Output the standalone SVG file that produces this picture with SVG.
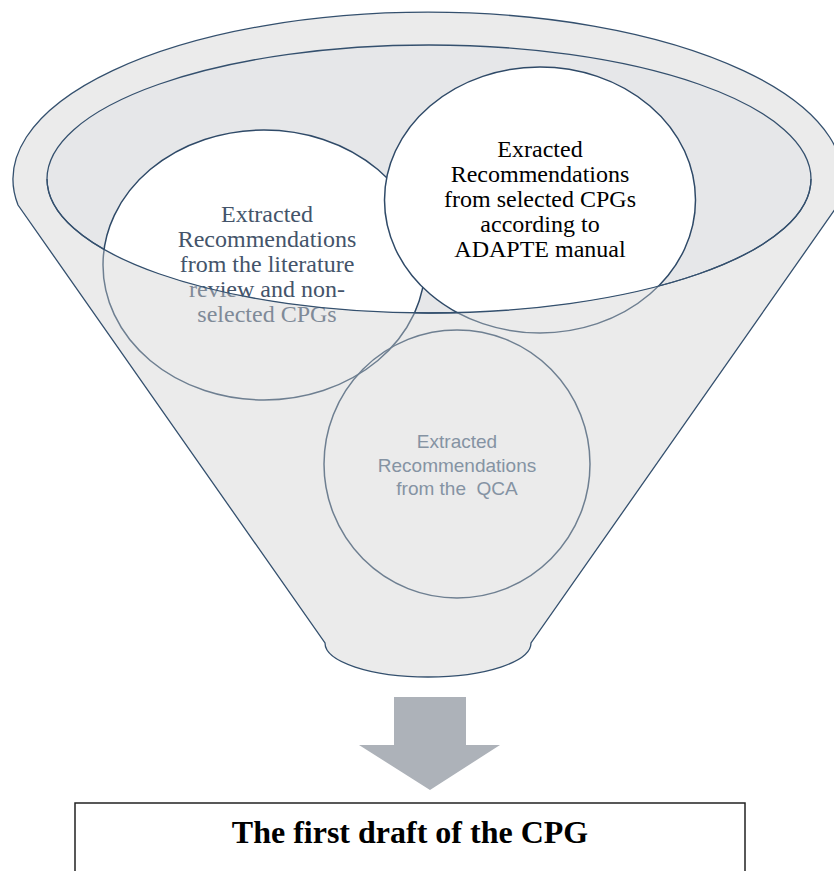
<svg xmlns="http://www.w3.org/2000/svg" width="834" height="871" viewBox="0 0 834 871">
<style>
.edge{fill:none;stroke:#34506e;stroke-width:1.3}
.serif{font-family:"Liberation Serif","Times New Roman",serif;font-size:24px;text-anchor:middle}
.sans{font-family:"Liberation Sans",Arial,sans-serif;font-size:19px;text-anchor:middle}
.c-up{fill:#ffffff;stroke:#2f4a68;stroke-width:1.5}
.c-low{fill:#ebebeb;stroke:#6e7f91;stroke-width:1.5}
</style>
<defs>
<clipPath id="above"><path d="M0,0 H834 V179 H811 A382 134 0 0 1 47 179 H0 Z"/></clipPath>
<clipPath id="below"><path d="M0,179 H47 A382 134 0 0 0 811 179 H834 V871 H0 Z"/></clipPath>
</defs>
<g id="funnel">
<path d="M18,205 A415 167 0 1 1 838,205 L531,643 A103 34 0 0 1 325,643 Z" fill="#ebebeb" stroke="#34506e" stroke-width="1.3"/>
<ellipse cx="429" cy="179" rx="382" ry="134" fill="#e6e7e9" stroke="#34506e" stroke-width="1.3"/>
</g>
<g id="node-literature">
<g clip-path="url(#above)">
<ellipse class="c-up" cx="264" cy="265" rx="161" ry="135"/>
<text class="serif" fill="#44546a"><tspan x="267" y="222">Extracted</tspan><tspan x="267" y="247">Recommendations</tspan><tspan x="267" y="272">from the literature</tspan><tspan x="267" y="297">review and non-</tspan><tspan x="267" y="322">selected CPGs</tspan></text>
</g>
<g clip-path="url(#below)">
<ellipse class="c-low" cx="264" cy="265" rx="161" ry="135"/>
<text class="serif" fill="#7f8a98"><tspan x="267" y="222">Extracted</tspan><tspan x="267" y="247">Recommendations</tspan><tspan x="267" y="272">from the literature</tspan><tspan x="267" y="297">review and non-</tspan><tspan x="267" y="322">selected CPGs</tspan></text>
</g>
</g>
<g id="node-adapte">
<g clip-path="url(#above)">
<ellipse class="c-up" cx="540" cy="200" rx="155.5" ry="133"/>
<text class="serif" fill="#000000"><tspan x="540" y="157">Exracted</tspan><tspan x="540" y="182">Recommendations</tspan><tspan x="540" y="207">from selected CPGs</tspan><tspan x="540" y="232">according to</tspan><tspan x="540" y="257">ADAPTE manual</tspan></text>
</g>
<g clip-path="url(#below)">
<ellipse class="c-low" cx="540" cy="200" rx="155.5" ry="133"/>
</g>
</g>
<g id="node-qca">
<ellipse cx="457" cy="464" rx="133" ry="134" fill="none" stroke="#6e7f91" stroke-width="1.5"/>
<text class="sans" fill="#8593a3"><tspan x="457" y="448">Extracted</tspan><tspan x="457" y="472">Recommendations</tspan><tspan x="457" y="495" xml:space="preserve">from the  QCA</tspan></text>
</g>
<path id="funnel-front-rim" class="edge" d="M47,179 A382 134 0 0 0 811,179"/>
<g id="connectors">
<polygon points="394,697 466,697 466,745 500,745 430,790 359,745 394,745" fill="#adb2b9"/>
</g>
<g id="node-draft">
<rect x="75" y="803" width="670" height="90" fill="#ffffff" stroke="#222222" stroke-width="1.5"/>
<text x="410" y="843" font-family="'Liberation Serif','Times New Roman',serif" font-size="32" font-weight="bold" text-anchor="middle" fill="#000000">The first draft of the CPG</text>
</g>
</svg>
